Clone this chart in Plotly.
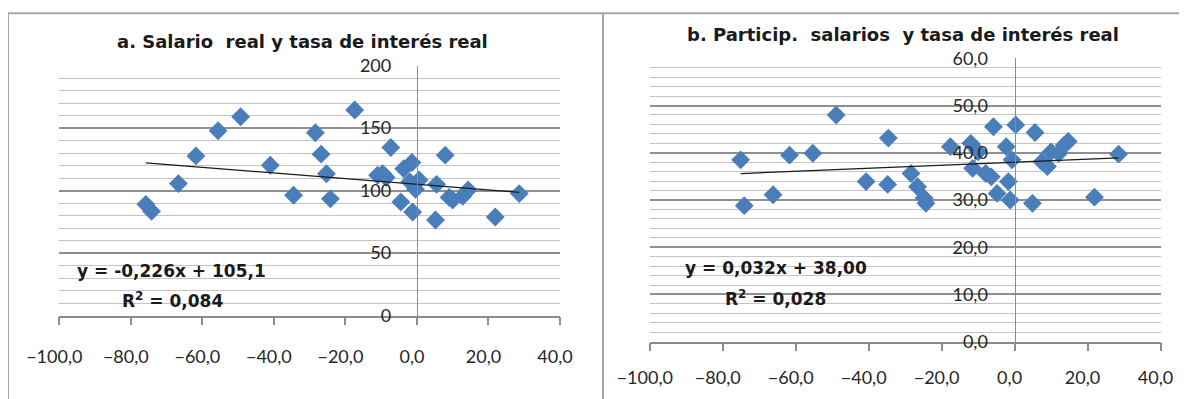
import plotly.graph_objects as go

# ---------------- data ----------------
# Panel a: real interest rate (x) vs real wage (y)
rate_a = [-75.8, -74.2, -66.7, -61.8, -55.6, -49.3, -41.0, -34.5, -28.4, -26.8, -25.3, -24.2,
          -17.4, -11.0, -9.6, -8.6, -7.3, -4.5, -3.7, -2.0, -1.4, -1.2, -0.4, 0.6,
          5.5, 5.2, 7.9, 9.0, 10.0, 12.8, 14.3, 21.9, 28.6]
wage_a = [89.0, 83.4, 105.6, 127.8, 147.9, 159.1, 120.3, 96.3, 146.3, 129.2, 113.5, 93.4,
          164.5, 112.3, 113.6, 110.5, 134.5, 90.9, 117.5, 107.0, 122.5, 82.9, 101.0, 108.5,
          105.0, 76.5, 128.4, 94.6, 92.5, 95.5, 100.5, 78.9, 97.6]

# Panel b: real interest rate (x) vs wage share (y)
rate_b = [-75.1, -74.1, -66.2, -61.7, -55.3, -48.9, -40.7, -34.6, -34.8, -28.4, -26.6, -24.8,
          -24.3, -17.6, -12.0, -11.5, -10.0, -7.9, -6.4, -5.8, -4.8, -2.3, -1.7, -1.2,
          -0.7, 0.3, 4.9, 5.6, 7.5, 9.0, 10.0, 12.1, 13.6, 14.7, 21.9, 28.5]
share_b = [38.5, 28.8, 31.1, 39.5, 39.9, 48.0, 33.9, 43.1, 33.3, 35.6, 32.8, 30.4,
           29.3, 41.3, 42.0, 36.7, 40.2, 35.6, 34.9, 45.5, 31.4, 41.3, 33.9, 30.0,
           38.5, 45.9, 29.3, 44.3, 38.1, 37.1, 40.2, 39.9, 41.6, 42.4, 30.6, 39.7]

# linear trend coefficients printed on the chart
slope_a, intercept_a, r2_a = -0.226, 105.1, 0.084
slope_b, intercept_b, r2_b = 0.032, 38.00, 0.028

title_a = "a. Salario  real y tasa de interés real"
title_b = "b. Particip.  salarios  y tasa de interés real"
eq_a = "y = -0,226x + 105,1"
eq_b = "y = 0,032x + 38,00"
r2_text_a = "R<sup>2</sup> = 0,084"
r2_text_b = "R<sup>2</sup> = 0,028"

# ---------------- layout helpers ----------------
# the page body adds an 8px margin, so the figure is drawn 8px smaller and
# all positions below are given in window pixels and converted here
OFF = 8
W, H = 1187 - OFF, 399 - OFF
FONT = "Lato"
BOLDFONT = "DejaVu Sans"
BLUE = "#4A7EBB"
TXT = "#262626"


def px(x):
    return (x - OFF) / W


def py(y):
    return 1 - (y - OFF) / H


fig = go.Figure()

# scatter points
fig.add_trace(go.Scatter(x=rate_a, y=wage_a, mode="markers", xaxis="x", yaxis="y",
                         marker=dict(symbol="diamond", size=14.5, color=BLUE, line=dict(width=0))))
fig.add_trace(go.Scatter(x=rate_b, y=share_b, mode="markers", xaxis="x2", yaxis="y2",
                         marker=dict(symbol="diamond", size=14.5, color=BLUE, line=dict(width=0))))

# trend lines
xa = [min(rate_a), max(rate_a)]
xb = [min(rate_b), max(rate_b)]
fig.add_trace(go.Scatter(x=xa, y=[slope_a * v + intercept_a for v in xa], mode="lines",
                         xaxis="x", yaxis="y", line=dict(color="#1a1a1a", width=1.2)))
fig.add_trace(go.Scatter(x=xb, y=[slope_b * v + intercept_b for v in xb], mode="lines",
                         xaxis="x2", yaxis="y2", line=dict(color="#1a1a1a", width=1.2)))

tickfont = dict(family=FONT, size=18, color=TXT)
AXC = "#8c8c8c"

xcommon = dict(range=[-100, 40], dtick=20, tick0=-100, tickformat=".1f", showgrid=False,
               zeroline=False, showline=True, linecolor=AXC, linewidth=1.5,
               ticks="outside", ticklen=8, tickcolor=AXC, tickwidth=1.5,
               tickfont=tickfont, fixedrange=True, automargin=False, ticklabelshift=-5)

# panel positions (window pixels)
a_x0, a_x1, a_ytop, a_ybot = 59.3, 560.0, 65.7, 315.5
b_x0, b_x1, b_ytop, b_ybot = 649.8, 1160.5, 58.3, 341.7

a_zero = a_x0 + 100 / 140 * (a_x1 - a_x0)
b_zero = b_x0 + 100 / 140 * (b_x1 - b_x0)

fig.update_layout(
    width=W, height=H,
    margin=dict(l=0, r=0, t=0, b=0, autoexpand=False),
    paper_bgcolor="white", plot_bgcolor="white",
    showlegend=False,
    separators=", ",
    font=dict(family=FONT, color=TXT),
    xaxis=dict(domain=[px(a_x0), px(a_x1)], anchor="y", ticklabelstandoff=16, **xcommon),
    yaxis=dict(domain=[py(a_ybot), py(a_ytop)], range=[0, 200], dtick=50, tick0=0,
               anchor="free", position=px(a_zero), showline=True, linecolor=AXC, linewidth=1.2,
               zeroline=False, showgrid=True, gridcolor="#8f8f8f", gridwidth=1.5,
               minor=dict(dtick=10, showgrid=True, gridcolor="#c4c4c4", gridwidth=1),
               ticks="", tickfont=tickfont, ticklabelstandoff=22, fixedrange=True,
               automargin=False),
    xaxis2=dict(domain=[px(b_x0), px(b_x1)], anchor="y2", ticklabelstandoff=11, **xcommon),
    yaxis2=dict(domain=[py(b_ybot), py(b_ytop)], range=[0, 60], dtick=10, tick0=0,
                tickformat=".1f",
                anchor="free", position=px(b_zero), showline=True, linecolor=AXC, linewidth=1.2,
                zeroline=False, showgrid=True, gridcolor="#8f8f8f", gridwidth=1.5,
                minor=dict(dtick=2, showgrid=True, gridcolor="#c4c4c4", gridwidth=1),
                ticks="", tickfont=tickfont, ticklabelstandoff=23, fixedrange=True,
                automargin=False),
)

# panel frame lines
FRAME = "#a6a6a6"
for x0, y0, x1, y1 in [(8, 13.3, 1187, 13.3), (8, 13.3, 8, 399), (603, 13.3, 603, 399)]:
    fig.add_shape(type="line", xref="paper", yref="paper",
                  x0=px(x0), y0=py(y0), x1=px(x1), y1=py(y1),
                  line=dict(color=FRAME, width=2), layer="below")

tfont = dict(family=BOLDFONT, size=18, color="#1a1a1a", weight="bold")
efont = dict(family=BOLDFONT, size=17, color="#1a1a1a", weight="bold")
anns = [
    (302.5, 41, title_a, tfont),
    (902.5, 34, title_b, tfont),
    (171.4, 271, eq_a, efont),
    (172.0, 300, r2_text_a, efont),
    (776.0, 268, eq_b, efont),
    (775.0, 298, r2_text_b, efont),
]
for x, y, t, f in anns:
    fig.add_annotation(x=px(x), y=py(y), xref="paper", yref="paper", text=t, showarrow=False,
                       xanchor="center", yanchor="middle", font=f)

fig.write_html("out.html")
